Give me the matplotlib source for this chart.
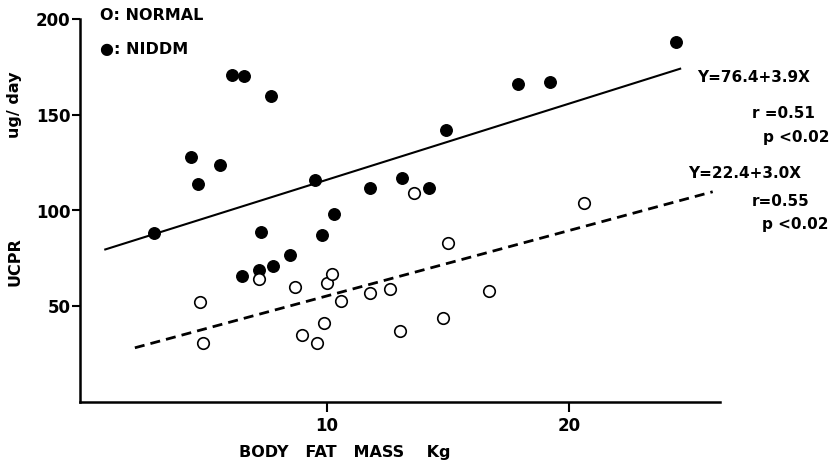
import matplotlib
matplotlib.use("Agg")
import matplotlib.pyplot as plt

plt.rcParams['font.family'] = ['DejaVu Sans']
plt.rcParams['font.weight'] = 'bold'

# NIDDM (filled circles)
niddm_x = [2.9, 4.4, 4.7, 5.6, 6.1, 6.6, 7.7, 6.5, 7.2, 7.3, 7.8, 8.5, 9.5, 9.8,
           10.3, 11.8, 13.1, 14.2, 14.9, 17.9, 19.2, 24.4]
niddm_y = [88, 128, 114, 124, 171, 170, 160, 66, 69, 89, 71, 77, 116, 87,
           98, 112, 117, 112, 142, 166, 167, 188]

# NORMAL (open circles)
normal_x = [4.8, 4.9, 7.2, 8.7, 9.0, 9.6, 9.9, 10.0, 10.2, 10.6, 11.8, 12.6,
            13.0, 13.6, 14.8, 15.0, 16.7, 20.6]
normal_y = [52, 31, 64, 60, 35, 31, 41, 62, 67, 53, 57, 59,
            37, 109, 44, 83, 58, 104]

# regression lines as drawn
niddm_line_x = [0.84, 24.6]
niddm_line_y = [79.5, 174.2]
normal_line_x = [2.1, 25.9]
normal_line_y = [28.3, 109.8]

xticks = [10, 20]
yticks = [50, 100, 150, 200]

fig = plt.figure(figsize=(8.33, 4.65), dpi=100)
ax = fig.add_axes([80/833, (465-402)/465, 640/833, 383/465])

ax.plot(niddm_line_x, niddm_line_y, color='black', lw=1.5, solid_capstyle='butt')
ax.plot(normal_line_x, normal_line_y, color='black', lw=2.0, dashes=(3.6, 2.2))

ax.plot(niddm_x, niddm_y, 'o', ms=8.3, mfc='black', mec='black', mew=1.0, ls='none')
ax.plot(normal_x, normal_y, 'o', ms=8.3, mfc='white', mec='black', mew=1.2, ls='none')

ax.set_xlim(-0.16, 26.2)
ax.set_ylim(0, 200)
for s in ['top', 'right']:
    ax.spines[s].set_visible(False)
for s in ['left', 'bottom']:
    ax.spines[s].set_linewidth(1.8)

ax.set_xticks(xticks)
ax.set_yticks(yticks)
ax.tick_params(axis='y', direction='out', length=6, width=1.5, pad=1, labelsize=12)
ax.tick_params(axis='x', direction='out', length=7, width=1.5, pad=4, labelsize=12)
for lab in ax.get_xticklabels() + ax.get_yticklabels():
    lab.set_fontweight('bold')

# axis labels
fig.text(345/833, 1 - 452/465, 'BODY   FAT   MASS    Kg', ha='center', va='center',
         fontsize=11.5, fontweight='bold')
fig.text(15/833, 1 - 262/465, 'UCPR', rotation=90, ha='center', va='center',
         fontsize=11.5, fontweight='bold')
fig.text(15/833, 1 - 105/465, 'ug/ day', rotation=90, ha='center', va='center',
         fontsize=11.5, fontweight='bold')

# legend texts
fig.text(100/833, 1 - 15/465, 'O: NORMAL', ha='left', va='center',
         fontsize=11.5, fontweight='bold')
fig.text(100/833, 1 - 50/465, '●: NIDDM', ha='left', va='center',
         fontsize=11.5, fontweight='bold')

# annotations
ann = [
    ('Y=76.4+3.9X', 697, 77),
    ('r =0.51', 752, 113),
    ('p <0.02', 763, 137),
    ('Y=22.4+3.0X', 688, 173),
    ('r=0.55', 752, 202),
    ('p <0.02', 762, 224),
]
for t, px, py in ann:
    fig.text(px/833, 1 - py/465, t, ha='left', va='center', fontsize=11,
             fontweight='bold')

fig.savefig('out.png', dpi=100)
